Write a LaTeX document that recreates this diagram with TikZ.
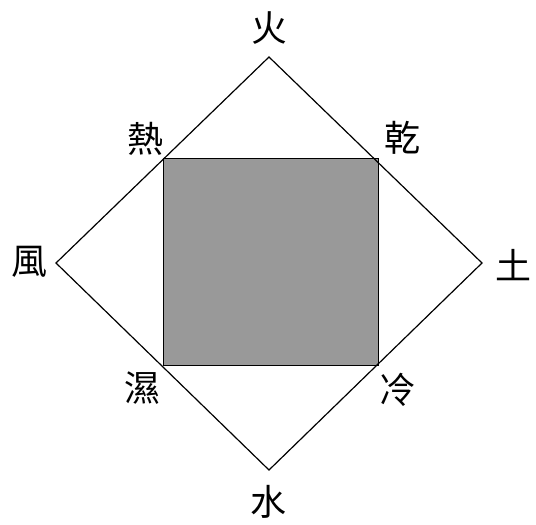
\documentclass[tikz,border=0pt]{standalone}
\usepackage{fontspec}
\newfontfamily\cjk{Noto Sans CJK TC}
\usepackage{tikz}
\usetikzlibrary{positioning,calc}

\tikzset{
    elem/.style={font=\cjk\fontsize{36}{36}\selectfont,inner sep=0pt},
}

\begin{document}
\begin{tikzpicture}[x=1pt,y=-1pt]
    \useasboundingbox (0,0) rectangle (536,525);

    % Diamond corners
    \coordinate (top) at (269,57);
    \coordinate (right) at (482,263);
    \coordinate (bottom) at (269,470);
    \coordinate (left) at (56,263);

    % Shaded square
    \node[rectangle,draw,line width=1pt,fill=black!40,minimum width=215pt,minimum height=207pt,inner sep=0pt] (core) at (270.5,261.5) {};

    % Diamond
    \draw[line width=1.2pt] (top) -- (right) -- (bottom) -- (left) -- cycle;

    % Elements
    \node[elem] (fire) at (269,28) {火};
    \node[elem] (earth) at (513,265) {土};
    \node[elem] (water) at (268,502) {水};
    \node[elem] (air) at (30,262) {風};

    % Qualities
    \node[elem] (hot) at (145,139) {熱};
    \node[elem] (dry) at (402,138) {乾};
    \node[elem] (wet) at (142,388) {濕};
    \node[elem] (cold) at (397,390) {冷};
\end{tikzpicture}
\end{document}
